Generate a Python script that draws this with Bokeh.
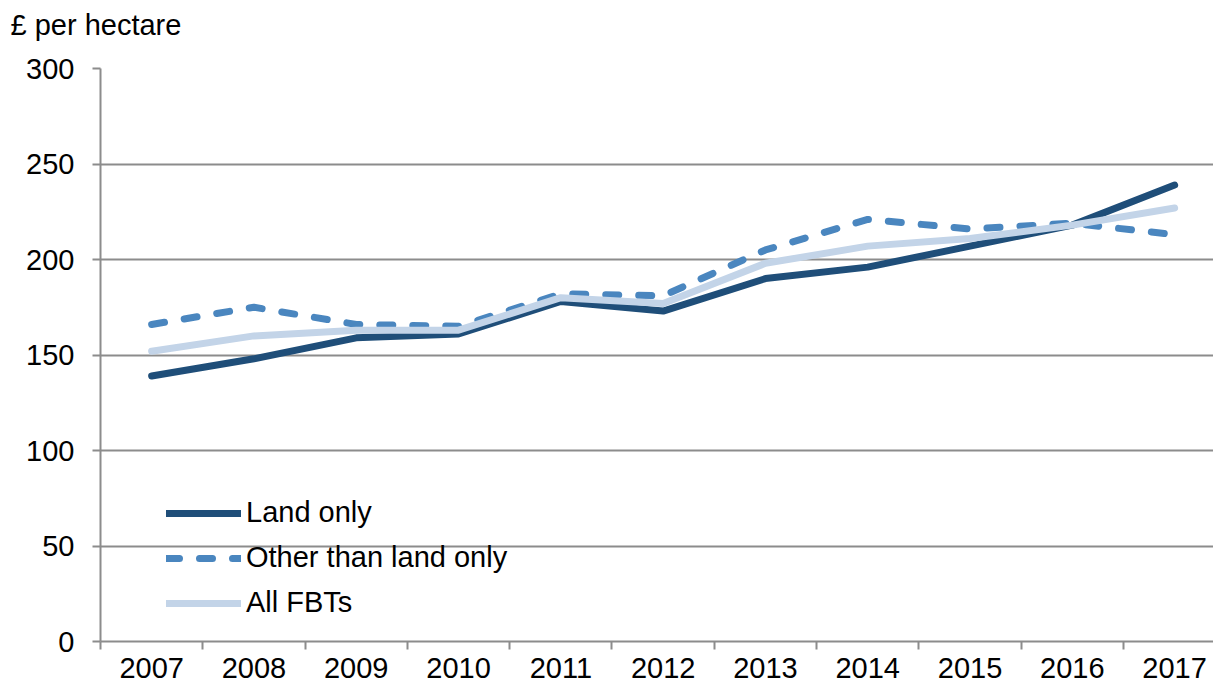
from bokeh.plotting import figure
from bokeh.models import Range1d, FixedTicker, Legend, LegendItem, Title
from bokeh.embed import file_html
from bokeh.resources import INLINE

years = ["2007", "2008", "2009", "2010", "2011", "2012", "2013", "2014", "2015", "2016", "2017"]
land_only = [139, 148, 159, 161, 178, 173, 190, 196, 207, 218, 239]
other_than_land = [166, 175, 166, 165, 182, 181, 205, 221, 216, 219, 213]
all_fbts = [152, 160, 163, 163, 180, 177, 198, 207, 211, 218, 227]
y_ticks = [0, 50, 100, 150, 200, 250, 300]

FONT = "Liberation Sans"
AXIS_GREY = "#8C8C8C"
FS = "29px"

xs = list(range(len(years)))

p = figure(width=1213, height=688, output_backend="svg", toolbar_location=None,
           x_range=Range1d(-0.5, 10.38), y_range=Range1d(0, 300),
           min_border_left=100, min_border_right=0, min_border_top=68, min_border_bottom=47)
p.outline_line_color = None

# blank spacer panel between frame and unit label, then the unit label above it
p.add_layout(Title(text=" ", text_font_size="1px", standoff=24, text_color="#ffffff"), "above")
p.add_layout(Title(text="£ per hectare", align="left", offset=-90, standoff=2,
                   text_font=FONT, text_font_size=FS, text_font_style="normal",
                   text_color="black"), "above")

r_land = p.line(xs, land_only, line_color="#1F4E79", line_width=7,
                line_cap="round", line_join="round")
r_other = p.line(xs, other_than_land, line_color="#4A86BF", line_width=7,
                 line_cap="round", line_join="round", line_dash="13 20")
r_all = p.line(xs, all_fbts, line_color="#C3D4E8", line_width=7,
               line_cap="round", line_join="round")

# y axis
p.yaxis.ticker = FixedTicker(ticks=y_ticks)
p.yaxis.axis_line_color = AXIS_GREY
p.yaxis.axis_line_width = 2
p.yaxis.major_tick_line_color = AXIS_GREY
p.yaxis.major_tick_line_width = 2
p.yaxis.major_tick_out = 8
p.yaxis.major_tick_in = 0
p.yaxis.minor_tick_line_color = None
p.yaxis.major_label_standoff = 18
p.yaxis.major_label_text_font = FONT
p.yaxis.major_label_text_font_size = FS
p.yaxis.major_label_text_color = "black"

# x axis: labels at category centres, ticks at category boundaries
boundaries = [i - 0.5 for i in range(len(years) + 1)]
p.xaxis.ticker = FixedTicker(ticks=xs, minor_ticks=boundaries)
p.xaxis.major_label_overrides = {i: y for i, y in enumerate(years)}
p.xaxis.axis_line_color = AXIS_GREY
p.xaxis.axis_line_width = 2
p.xaxis.major_tick_line_color = None
p.xaxis.major_tick_out = 8
p.xaxis.major_tick_in = 0
p.xaxis.minor_tick_line_color = AXIS_GREY
p.xaxis.minor_tick_line_width = 2
p.xaxis.minor_tick_out = 8
p.xaxis.minor_tick_in = 0
p.xaxis.major_label_standoff = 8
p.xaxis.major_label_text_font = FONT
p.xaxis.major_label_text_font_size = FS
p.xaxis.major_label_text_color = "black"

# grid
p.xgrid.grid_line_color = None
p.ygrid.ticker = FixedTicker(ticks=y_ticks)
p.ygrid.grid_line_color = AXIS_GREY
p.ygrid.grid_line_width = 2

legend = Legend(items=[LegendItem(label="Land only", renderers=[r_land]),
                       LegendItem(label="Other than land only", renderers=[r_other]),
                       LegendItem(label="All FBTs", renderers=[r_all])],
                location=(66, 22), orientation="vertical",
                glyph_width=75, glyph_height=30, label_height=30, spacing=12,
                label_standoff=5, padding=0, margin=0,
                label_text_font=FONT, label_text_font_size=FS,
                label_text_color="black",
                border_line_alpha=0, background_fill_alpha=0)
p.add_layout(legend)

open("out.html", "w").write(file_html(p, INLINE))
